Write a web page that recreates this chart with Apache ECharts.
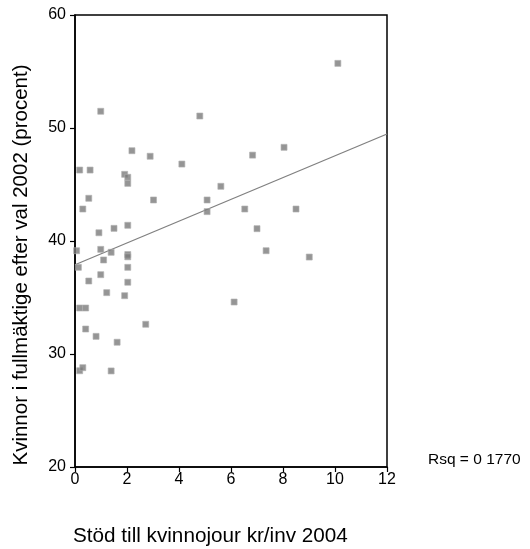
<!DOCTYPE html>
<html><head><meta charset="utf-8">
<script src="https://cdn.jsdelivr.net/npm/echarts@6/dist/echarts.min.js"></script>
<style>html,body{margin:0;padding:0;background:#fff}#c{width:530px;height:549px}</style>
</head><body><div id="c"></div>
<script>
var xValues = [0.99,4.80,2.19,2.89,4.11,0.18,0.58,1.91,2.03,2.03,5.61,0.53,3.02,5.08,0.30,5.08,0.92,1.50,2.03,
  10.11,8.04,6.83,6.53,8.50,7.00,7.35,9.01,6.12,
  0.06,0.99,1.39,2.03,2.03,1.10,0.13,2.03,0.99,0.53,2.03,1.22,1.91,0.18,0.41,2.72,0.41,0.81,1.62,0.18,0.30,1.39];
var yValues = [51.48,51.06,47.99,47.5,46.81,46.28,46.28,45.9,45.64,45.1,44.84,43.78,43.63,43.63,42.83,42.6,40.73,41.12,41.39,
  55.72,48.29,47.6,42.83,42.83,41.09,39.14,38.58,34.6,
  39.14,39.26,39.0,38.8,38.6,38.32,37.67,37.67,37.02,36.46,36.35,35.43,35.16,34.07,34.07,32.63,32.21,31.56,31.04,28.52,28.79,28.50];
var fitX = [0, 12];
var fitY = [37.9, 49.47];
var xTicks = [0,2,4,6,8,10,12];
var yTicks = [20,30,40,50,60];
var xTitle = 'Stöd till kvinnojour kr/inv 2004';
var yTitle = 'Kvinnor i fullmäktige efter val 2002 (procent)';
var rsqText = 'Rsq = 0 1770';

var pts = xValues.map(function(x,i){return [x,yValues[i]];});
var fit = fitX.map(function(x,i){return [x,fitY[i]];});
var font = 'Liberation Sans, Arial, sans-serif';
var chart = echarts.init(document.getElementById('c'), null, {renderer:'canvas'});
chart.setOption({
  animation:false,
  backgroundColor:'#fff',
  grid:{left:75,top:15,right:143,bottom:82,show:true,borderColor:'#000',borderWidth:1.5,backgroundColor:'transparent'},
  xAxis:{type:'value',min:0,max:12,interval:2,
    axisLine:{show:true,lineStyle:{color:'#000',width:1.5}},
    axisTick:{show:true,length:5,lineStyle:{color:'#000',width:1.2}},
    axisLabel:{color:'#000',fontFamily:font,fontSize:16,margin:5},
    splitLine:{show:false}},
  yAxis:{type:'value',min:20,max:60,interval:10,
    axisLine:{show:true,lineStyle:{color:'#000',width:1.5}},
    axisTick:{show:true,length:5,lineStyle:{color:'#000',width:1.2}},
    axisLabel:{color:'#000',fontFamily:font,fontSize:16,margin:9},
    splitLine:{show:false}},
  series:[
    {type:'line',data:fit,symbol:'none',lineStyle:{color:'#808080',width:1.3},silent:true,z:2},
    {type:'scatter',data:pts,symbol:'rect',symbolSize:6,
      itemStyle:{color:'#7a7a7a',borderColor:'#b0b0b0',borderWidth:0.8},z:3}
  ],
  graphic:[
    {type:'text',x:73,y:536,style:{text:xTitle,font:'20.7px '+font,fill:'#000',verticalAlign:'middle'}},
    {type:'text',x:21,y:265,rotation:Math.PI/2,style:{text:yTitle,font:'20.5px '+font,fill:'#000',align:'center',verticalAlign:'middle'}},
    {type:'text',x:428,y:460,style:{text:rsqText,font:'15.5px '+font,fill:'#000',verticalAlign:'middle'}}
  ]
});
</script></body></html>
